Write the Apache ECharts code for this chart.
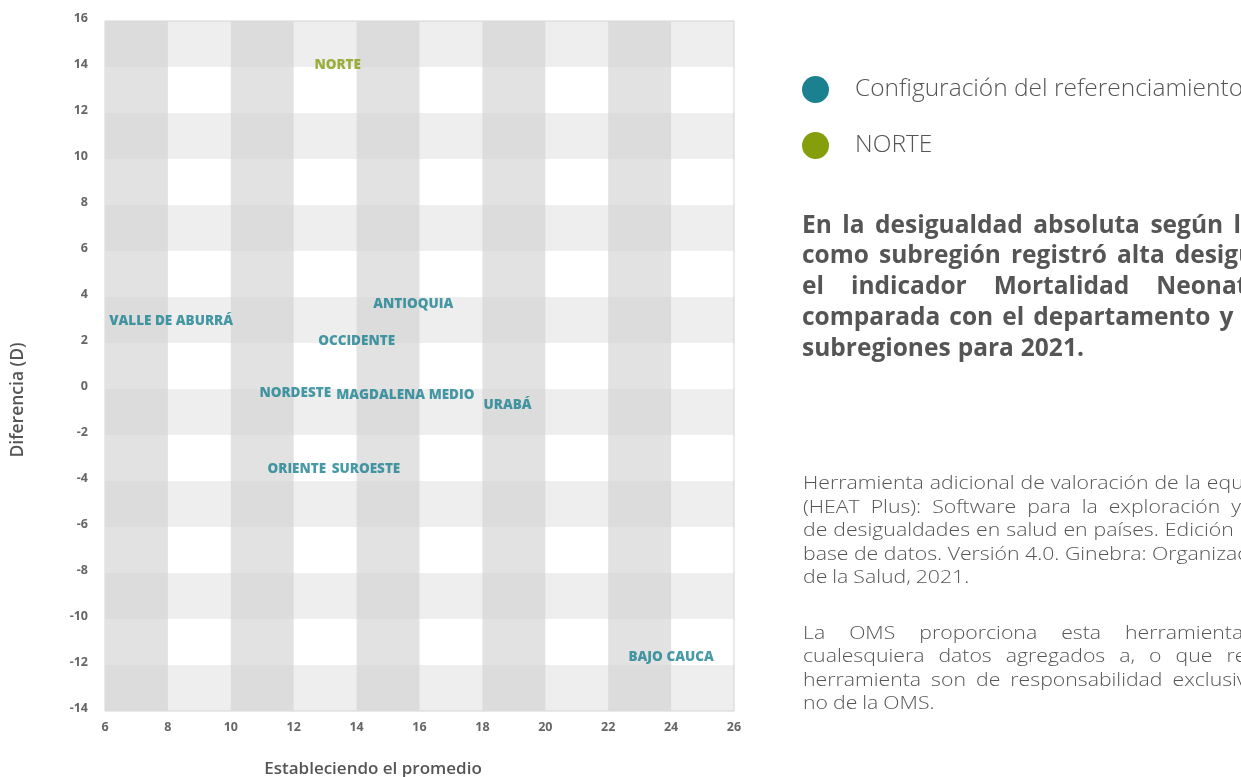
<!DOCTYPE html>
<html>
<head>
<meta charset="utf-8">
<script src="https://cdn.jsdelivr.net/npm/echarts@6/dist/echarts.min.js"></script>
<style>
html,body{margin:0;padding:0;background:#fff;}
#chart{width:1241px;height:777px;}
</style>
</head>
<body>
<div id="chart"></div>
<script>
// ---- data ----
var refNames = ['ANTIOQUIA','VALLE DE ABURRÁ','OCCIDENTE','NORDESTE','MAGDALENA MEDIO','URABÁ','ORIENTE','SUROESTE','BAJO CAUCA'];
var refX     = [15.8, 8.1, 14.0, 12.05, 15.55, 18.8, 12.1, 14.3, 24.0];
var refY     = [3.7, 2.95, 2.1, -0.2, -0.25, -0.7, -3.5, -3.5, -11.65];
var focusNames = ['NORTE'];
var focusX     = [13.4];
var focusY     = [14.1];
var seriesNames = ['Configuración del referenciamiento', 'NORTE'];
var xTicks = {min: 6, max: 26, interval: 2};
var yTicks = {min: -14, max: 16, interval: 2};
var xAxisName = 'Estableciendo el promedio';
var yAxisName = 'Diferencia (D)';

var boldLines = [
  'En la desigualdad absoluta según la diferencia, NORTE',
  'como subregión registró alta desigualdad en',
  'el indicador Mortalidad Neonatal (por 1.000',
  'comparada con el departamento y las demás',
  'subregiones para 2021.'
];
var sourceLines = [
  'Herramienta adicional de valoración de la equidad en salud',
  '(HEAT Plus): Software para la exploración y comparación',
  'de desigualdades en salud en países. Edición de carga de',
  'base de datos. Versión 4.0. Ginebra: Organización Mundial',
  'de la Salud, 2021.'
];
var noteLines = [
  'La OMS proporciona esta herramienta, pero',
  'cualesquiera datos agregados a, o que resulten de la',
  'herramienta son de responsabilidad exclusiva del usuario y',
  'no de la OMS.'
];

// ---- styling ----
var TEAL = '#1b8191';
var GREEN = '#849e0c';
var TXT = '#555555';
var FF = '"Open Sans", "Noto Sans", sans-serif';

var measureCtx = document.createElement('canvas').getContext('2d');
function wordsLine(text, x, y, gap, font, fill, sx) {
  sx = sx || 1;
  measureCtx.font = font;
  var out = [];
  var cx = x;
  text.split(' ').forEach(function (w) {
    out.push({type: 'text', silent: true, x: cx, y: y, scaleX: sx,
      style: {text: w, x: 0, y: 0, font: font, fill: fill, verticalAlign: 'middle', align: 'left'}});
    cx += measureCtx.measureText(w).width * sx + gap;
  });
  return out;
}

var graphics = [];
var boldFont = 'bold 24.5px ' + FF;
var boldY = [226, 256, 287, 318, 349];
var boldGap = [10.5, 10, 27, 9, 7];
boldLines.forEach(function (l, i) { graphics = graphics.concat(wordsLine(l, 802, boldY[i], boldGap[i], boldFont, TXT, 1)); });
var lightFont = '300 18px ' + FF;
var LSX = 1.18;
var srcY = [484, 508, 531, 555, 578];
var srcGap = [6, 11, 6, 5.5, 5];
sourceLines.forEach(function (l, i) { graphics = graphics.concat(wordsLine(l, 803, srcY[i], srcGap[i], lightFont, TXT, LSX)); });
var noteY = [634, 657, 681, 704];
var noteGap = [24, 14, 10, 5];
noteLines.forEach(function (l, i) { graphics = graphics.concat(wordsLine(l, 803, noteY[i], noteGap[i], lightFont, TXT, LSX)); });

function mk(names, xs, ys) {
  return names.map(function (n, i) { return {name: n, value: [xs[i], ys[i]]}; });
}
var labelStyle = function (c) {
  return {show: true, position: 'inside', formatter: '{b}', color: c, fontFamily: FF, fontWeight: 800, fontSize: 13.5};
};

var chart = echarts.init(document.getElementById('chart'), null, {renderer: 'canvas'});
chart.setOption({
  animation: false,
  backgroundColor: '#ffffff',
  grid: {left: 105, right: 507, top: 21, bottom: 66, show: true, borderColor: '#d4d4d4', borderWidth: 1,
         backgroundColor: 'rgba(0,0,0,0)', containLabel: false, outerBoundsMode: 'none'},
  legend: {
    orient: 'vertical', left: 802, top: 76, padding: 0, itemWidth: 27, itemHeight: 27, itemGap: 29, icon: 'circle',
    selectedMode: false,
    textStyle: {fontFamily: FF, fontSize: 24.5, fontWeight: 300, color: TXT, padding: [0, 0, 0, 21]},
    data: [{name: seriesNames[0], itemStyle: {color: TEAL, opacity: 1}}, {name: seriesNames[1], itemStyle: {color: GREEN, opacity: 1}}]
  },
  xAxis: {
    type: 'value', min: xTicks.min, max: xTicks.max, interval: xTicks.interval, z: 0,
    name: xAxisName, nameLocation: 'middle', nameGap: 50,
    nameTextStyle: {fontFamily: FF, fontSize: 17, fontWeight: 600, color: TXT, padding: [0, 93, 0, 0]},
    axisLine: {show: false}, axisTick: {show: false},
    axisLabel: {margin: 10, fontFamily: FF, fontSize: 12.5, fontWeight: 'bold', color: '#666666'},
    splitLine: {show: false},
    splitArea: {show: true, areaStyle: {color: ['#e2e2e2', 'rgba(255,255,255,0)']}}
  },
  yAxis: {
    type: 'value', min: yTicks.min, max: yTicks.max, interval: yTicks.interval, z: 1,
    name: yAxisName, nameLocation: 'middle', nameGap: 78, nameRotate: 90,
    nameTextStyle: {fontFamily: FF, fontSize: 17.5, fontWeight: 600, color: TXT, padding: [0, 68, 0, 0]},
    axisLine: {show: false}, axisTick: {show: false},
    axisLabel: {margin: 17, fontFamily: FF, fontSize: 12.5, fontWeight: 'bold', color: '#666666', verticalAlign: 'bottom', lineHeight: 6},
    splitLine: {show: false},
    splitArea: {show: true, areaStyle: {color: ['rgba(210,210,210,0.38)', 'rgba(255,255,255,0)']}}
  },
  series: [
    {name: seriesNames[0], type: 'scatter', symbolSize: 0, z: 3, itemStyle: {color: TEAL}, label: labelStyle(TEAL), data: mk(refNames, refX, refY)},
    {name: seriesNames[1], type: 'scatter', symbolSize: 0, z: 3, itemStyle: {color: GREEN}, label: labelStyle(GREEN), data: mk(focusNames, focusX, focusY)}
  ],
  graphic: graphics
});
</script>
</body>
</html>
